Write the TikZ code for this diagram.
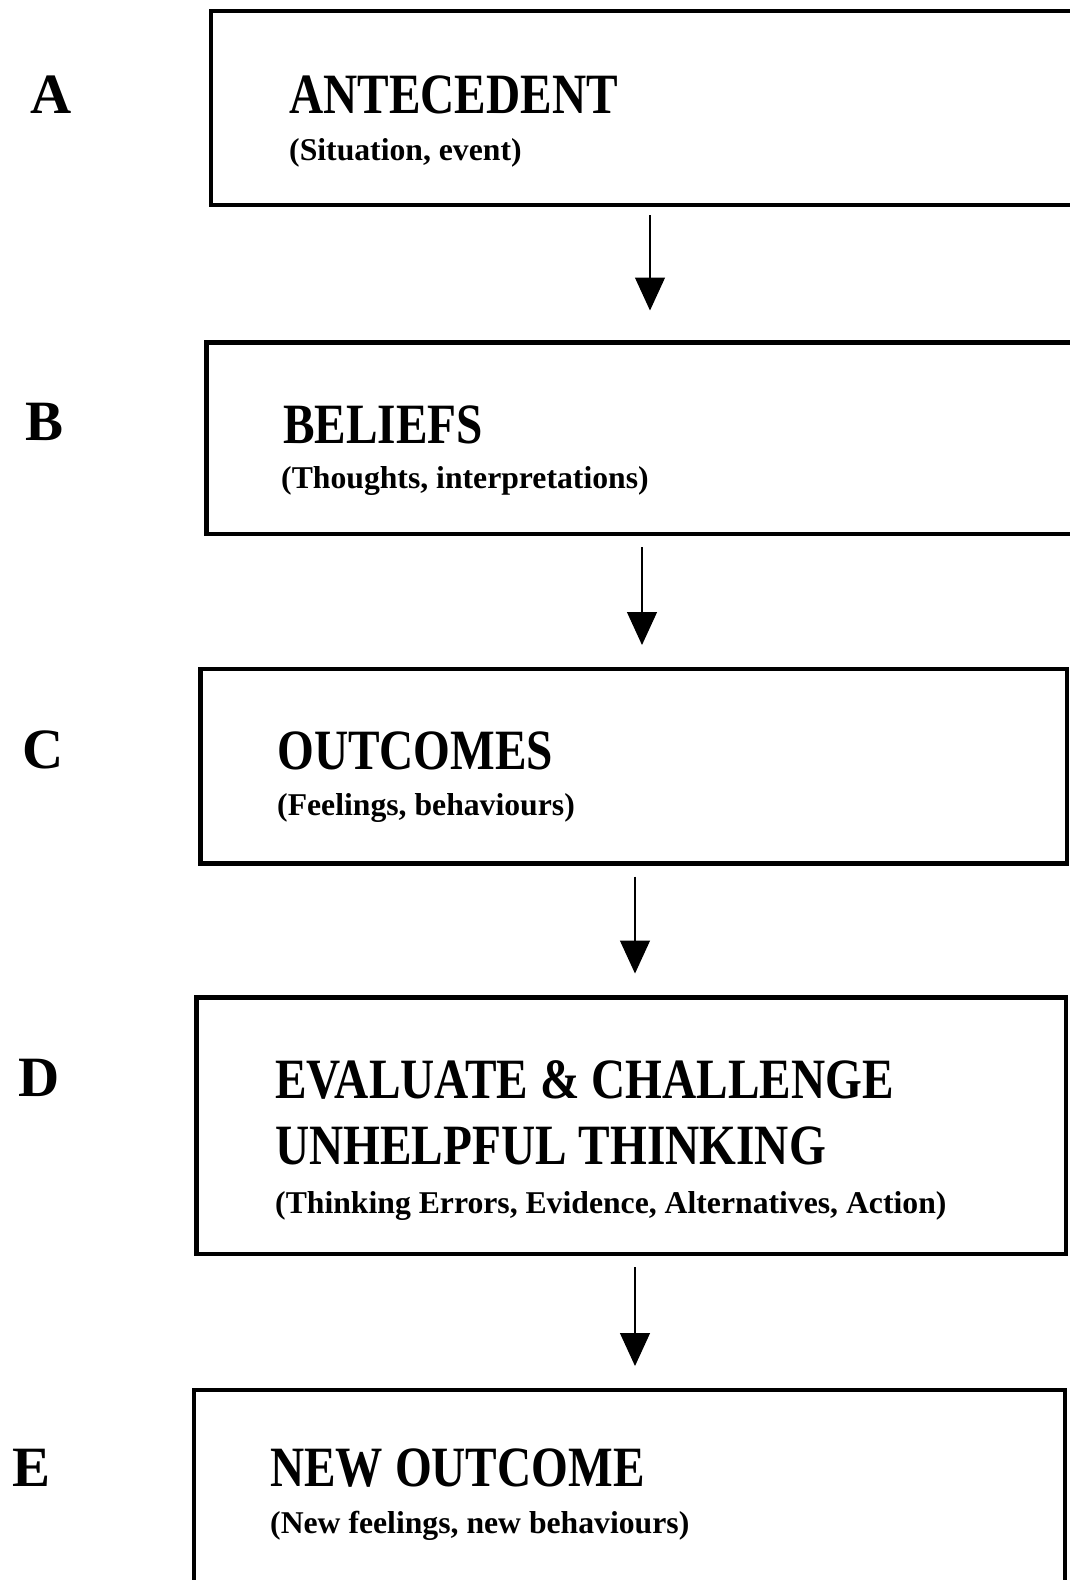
\documentclass[tikz,border=0pt]{standalone}
\usepackage{fontspec}
\setmainfont{Liberation Serif}
\newfontfamily\headfont{Liberation Serif}[FakeStretch=0.83]
\usetikzlibrary{arrows.meta}
\tikzset{
  box/.style={draw,line width=4.5pt,anchor=north west,inner sep=0pt,outer sep=0pt},
  letter/.style={anchor=base west,inner sep=0pt,font=\bfseries\fontsize{57}{68}\selectfont},
  head/.style={anchor=base west,inner sep=0pt,font=\headfont\bfseries\fontsize{57}{66}\selectfont},
  sub/.style={anchor=base west,inner sep=0pt,font=\bfseries\fontsize{31.7}{38}\selectfont},
  flow/.style={line width=1.2pt,-{Triangle[width=30pt,length=33pt]},shorten <=13pt,shorten >=24pt}
}
\begin{document}
\begin{tikzpicture}[x=1pt,y=-1pt]
  \useasboundingbox (0,0) rectangle (1069,1580);
  \node[box,minimum width=869pt,minimum height=194pt] (boxA) at (211,11) {};
  \node[box,minimum width=874pt,minimum height=191.5pt] (boxB) at (206.5,342.5) {};
  \node[box,minimum width=866.5pt,minimum height=194.5pt] (boxC) at (200.5,669) {};
  \node[box,minimum width=869.5pt,minimum height=256.5pt] (boxD) at (196.5,997.5) {};
  \node[box,minimum width=871pt,minimum height=240pt] (boxE) at (194,1390) {};
  \node[letter] (lA) at (30,113) {A};
  \node[letter] (lB) at (25,440) {B};
  \node[letter] (lC) at (22,768) {C};
  \node[letter] (lD) at (18,1096) {D};
  \node[letter] (lE) at (12,1486) {E};
  \node[head] (hA) at (289,113) {ANTECEDENT};
  \node[sub] (sA) at (289,160) {(Situation, event)};
  \node[head] (hB) at (283,443) {BELIEFS};
  \node[sub] (sB) at (281,488) {(Thoughts, interpretations)};
  \node[head] (hC) at (277,769) {OUTCOMES};
  \node[sub] (sC) at (277,815) {(Feelings, behaviours)};
  \node[head] (hD) at (275,1098) {EVALUATE \& CHALLENGE};
  \node[head] (hD2) at (275,1164) {UNHELPFUL THINKING};
  \node[sub] (sD) at (275,1213) {(Thinking Errors, Evidence, Alternatives, Action)};
  \node[head] (hE) at (270,1486) {NEW OUTCOME};
  \node[sub] (sE) at (270,1533) {(New feelings, new behaviours)};
  \draw[flow,shorten <=10pt,shorten >=32pt] ([xshift=439pt]boxA.south west) -- ([xshift=443.5pt]boxB.north west);
  \draw[flow] ([xshift=435.5pt]boxB.south west) -- ([xshift=441.5pt]boxC.north west);
  \draw[flow] ([xshift=434.5pt]boxC.south west) -- ([xshift=438.5pt]boxD.north west);
  \draw[flow] ([xshift=438.5pt]boxD.south west) -- ([xshift=441pt]boxE.north west);
\end{tikzpicture}
\end{document}
